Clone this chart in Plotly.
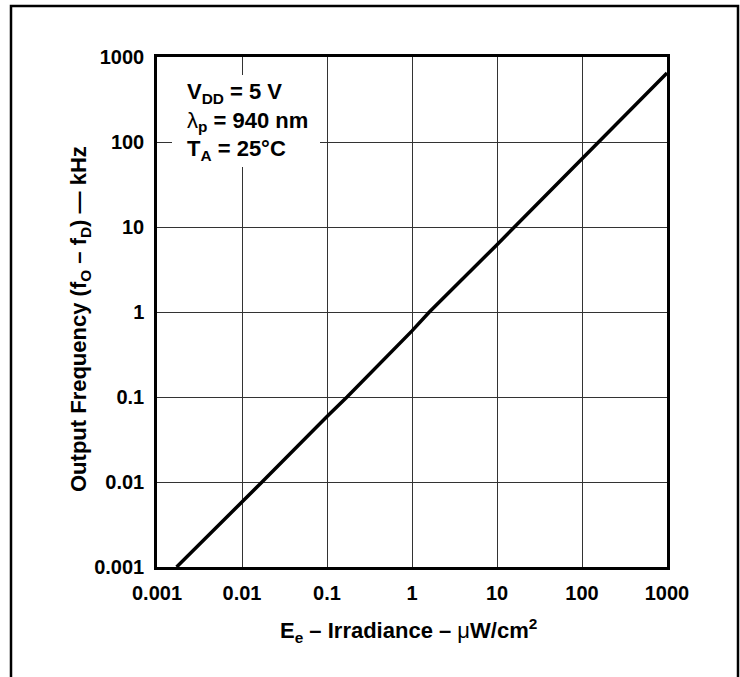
import plotly.graph_objects as go

# Data (log-log curve)
irradiance = [0.0017, 0.01, 0.0172, 0.1, 0.172, 1, 1.6, 10, 16, 100, 155, 1000]
frequency = [0.001, 0.0058, 0.01, 0.059, 0.1, 0.6, 1, 6.2, 10, 64, 100, 650]

tick_vals = [0.001, 0.01, 0.1, 1, 10, 100, 1000]
tick_text = ["0.001", "0.01", "0.1", "1", "10", "100", "1000"]

FONT = "Liberation Sans, Arial, Helvetica, sans-serif"
W, H = 740, 677
L, R, T, B = 157, 667, 57, 567
PW, PH = R - L, B - T


def px(x):
    return (x - L) / PW


def py(y):
    return (B - y) / PH


fig = go.Figure()
fig.add_trace(go.Scatter(
    x=irradiance, y=frequency, mode="lines",
    line=dict(color="black", width=3.5),
    showlegend=False, hoverinfo="skip",
))

axis_common = dict(
    type="log", range=[-3, 3],
    tickvals=tick_vals, ticktext=tick_text,
    showgrid=True, gridcolor="#333333", gridwidth=1,
    showline=True, mirror=True, linecolor="black", linewidth=2.5,
    zeroline=False, ticks="",
    tickfont=dict(family=FONT, size=20, color="black", weight="bold"),
)

fig.update_xaxes(**axis_common, ticklabelstandoff=6)
fig.update_yaxes(**axis_common, ticklabelstandoff=6)

fig.update_layout(
    width=W, height=H,
    margin=dict(l=L, r=W - R, t=T, b=H - B),
    plot_bgcolor="white", paper_bgcolor="white",
    font=dict(family=FONT, color="black", weight="bold"),
)

# outer frame
fig.add_shape(type="rect", xref="paper", yref="paper",
              x0=px(11), x1=px(738), y0=py(700), y1=py(6),
              line=dict(color="black", width=2.5), fillcolor="rgba(0,0,0,0)", layer="above")

# white box behind the conditions text (breaks the grid lines)
fig.add_shape(type="rect", xref="paper", yref="paper",
              x0=px(172), x1=px(320), y0=py(167), y1=py(75),
              line=dict(width=0), fillcolor="white", layer="above")

# condition text
fig.add_annotation(
    xref="paper", yref="paper", x=px(186), y=py(121),
    xanchor="left", yanchor="middle", align="left", showarrow=False,
    text=("V<sub>DD</sub> = 5 V<br>"
          "<span style='font-weight:normal'>λ</span><sub>p</sub> = 940 nm<br>"
          "T<sub>A</sub> = 25°C"),
    font=dict(family=FONT, size=22, color="black", weight="bold"),
    borderpad=0,
)

# axis titles
fig.add_annotation(
    xref="paper", yref="paper", x=px(408), y=py(630),
    xanchor="center", yanchor="middle", showarrow=False,
    text="E<sub>e</sub> – Irradiance – <span style='font-weight:normal'>μ</span>W/cm<sup>2</sup>",
    font=dict(family=FONT, size=22, color="black", weight="bold"),
)
fig.add_annotation(
    xref="paper", yref="paper", x=px(80), y=py(319),
    xanchor="center", yanchor="middle", showarrow=False, textangle=-90,
    text="Output Frequency (f<sub>O</sub> – f<sub>D</sub>) — kHz",
    font=dict(family=FONT, size=22, color="black", weight="bold"),
)

fig.write_html("out.html")
